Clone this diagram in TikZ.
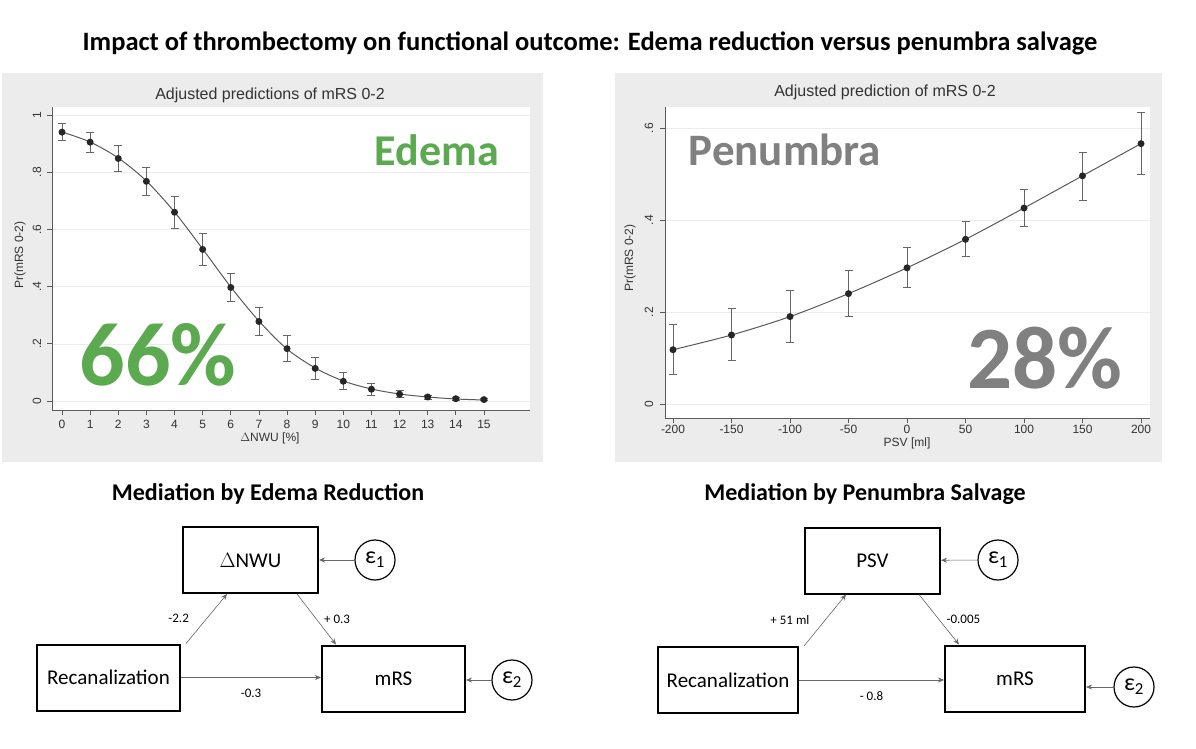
\documentclass[tikz,border=0pt]{standalone}
\usepackage{fontspec}
\setmainfont{Carlito}
\newfontfamily\plotfont{Liberation Sans}
\usetikzlibrary{arrows.meta}
\definecolor{panelgray}{RGB}{236,236,236}
\definecolor{edgreen}{RGB}{92,170,80}
\definecolor{pengray}{RGB}{128,128,128}
\definecolor{curvegray}{RGB}{90,90,90}
\tikzset{
  panel/.style={fill=panelgray,draw=none},
  plotarea/.style={fill=white,draw=none},
  axis/.style={draw=curvegray,line width=0.8pt},
  ptick/.style={font=\plotfont\fontsize{12}{13}\selectfont,text=black!80},
  pt/.style={circle,fill=black!85,inner sep=0pt,minimum size=7pt},
  errbar/.style={draw=black!60,line width=0.8pt},
  curve/.style={draw=curvegray,line width=1pt},
  grid/.style={draw=panelgray,line width=0.6pt},
  varbox/.style={draw,line width=2pt,minimum width=140pt,minimum height=66pt,font=\fontsize{21}{24}\selectfont},
  errc/.style={circle,draw,line width=1.2pt,minimum size=40pt,inner sep=0pt,font=\fontsize{24}{26}\selectfont},
  conn/.style={-{Stealth[length=6pt,width=5pt]},draw=black!60,line width=0.6pt},
  coef/.style={font=\fontsize{13}{14}\selectfont}
}
\begin{document}
\begin{tikzpicture}[x=1pt,y=-1pt]
\useasboundingbox (0,0) rectangle (1196,749);
\fill[white] (0,0) rectangle (1196,749);
\node[font=\bfseries\fontsize{26.5}{30}\selectfont] (title) at (590,43) {Impact of thrombectomy on functional outcome: Edema reduction versus penumbra salvage};
% ---------- left plot
\fill[panel] (2,73) rectangle (543,462);
\fill[plotarea] (52,107) rectangle (530,410);
\foreach \v in {0,0.2,0.4,0.6,0.8,1} \draw[grid] (52,{401-286*\v}) -- (530,{401-286*\v});
\draw[axis] (52,107) -- (52,410) -- (530,410);
\foreach \v/\l in {0/0,0.2/.2,0.4/.4,0.6/.6,0.8/.8,1/1}{
  \draw[axis] (47,{401-286*\v}) -- (52,{401-286*\v});
  \node[ptick,rotate=90] at (37,{401-286*\v}) {\l};}
\foreach \i in {0,...,15}{
  \draw[axis] ({62+28.13*\i},410) -- ({62+28.13*\i},415);
  \node[ptick] at ({62+28.13*\i},424) {\i};}
\node[ptick] (lxl) at (270,438) {$\Delta$NWU [\%]};
\node[ptick,rotate=90] (lyl) at (20,255) {Pr(mRS 0-2)};
\node[font=\plotfont\fontsize{16}{18}\selectfont,text=black!80] (ltitle) at (270,95) {Adjusted predictions of mRS 0-2};
\draw[curve] plot[smooth] coordinates {(62,132) (90.1,142) (118.3,158) (146.4,181) (174.5,212) (202.7,249) (230.8,287) (258.9,321) (287,349) (315.2,368) (343.3,381) (371.4,389) (399.6,394) (427.7,397) (455.8,399) (484,400)};
\foreach \i/\m/\h in {0/0.94/0.03,1/0.905/0.035,2/0.848/0.045,3/0.768/0.05,4/0.66/0.055,5/0.53/0.055,6/0.397/0.05,7/0.278/0.05,8/0.183/0.045,9/0.114/0.037,10/0.069/0.03,11/0.041/0.022,12/0.024/0.013,13/0.014/0.007,14/0.008/0.005,15/0.005/0.003}{
  \draw[errbar] ({62+28.13*\i},{401-286*(\m-\h)}) -- ({62+28.13*\i},{401-286*(\m+\h)});
  \draw[errbar] ({62+28.13*\i-4},{401-286*(\m-\h)}) -- ({62+28.13*\i+4},{401-286*(\m-\h)});
  \draw[errbar] ({62+28.13*\i-4},{401-286*(\m+\h)}) -- ({62+28.13*\i+4},{401-286*(\m+\h)});
  \node[pt] at ({62+28.13*\i},{401-286*\m}) {};}
\node[font=\bfseries\fontsize{44}{48}\selectfont,text=edgreen] (edema) at (437,150) {Edema};
\node[font=\bfseries\fontsize{90}{96}\selectfont,text=edgreen] (p66) at (158,355) {66\%};
% ---------- right plot
\fill[panel] (615,73) rectangle (1162,462);
\fill[plotarea] (665,107) rectangle (1150,418);
\foreach \v in {0,0.2,0.4,0.6} \draw[grid] (665,{404-460*\v}) -- (1150,{404-460*\v});
\draw[axis] (665,107) -- (665,418) -- (1150,418);
\foreach \v/\l in {0/0,0.2/.2,0.4/.4,0.6/.6}{
  \draw[axis] (660,{404-460*\v}) -- (665,{404-460*\v});
  \node[ptick,rotate=90] at (649,{404-460*\v}) {\l};}
\foreach \x in {-200,-150,...,200}{
  \draw[axis] ({673+1.17*(\x+200)},418) -- ({673+1.17*(\x+200)},423);
  \node[ptick] at ({673+1.17*(\x+200)},429) {\x};}
\node[ptick] (rxl) at (907,443) {PSV [ml]};
\node[ptick,rotate=90] (ryl) at (630,258) {Pr(mRS 0-2)};
\node[font=\plotfont\fontsize{16}{18}\selectfont,text=black!80] (rtitle) at (885,92) {Adjusted prediction of mRS 0-2};
\draw[curve] plot[smooth] coordinates {(673,349.7) (731.5,335) (790,316.6) (848.5,293.6) (907,267.8) (965.5,239.3) (1024,208) (1082.5,175.8) (1141,143.6)};
\foreach \x/\m/\lo/\hi in {-200/0.118/0.065/0.173,-150/0.15/0.095/0.208,-100/0.19/0.135/0.247,-50/0.24/0.19/0.29,0/0.296/0.253/0.34,50/0.358/0.32/0.398,100/0.426/0.386/0.466,150/0.496/0.443/0.548,200/0.566/0.5/0.635}{
  \draw[errbar] ({673+1.17*(\x+200)},{404-460*\lo}) -- ({673+1.17*(\x+200)},{404-460*\hi});
  \draw[errbar] ({673+1.17*(\x+200)-4},{404-460*\lo}) -- ({673+1.17*(\x+200)+4},{404-460*\lo});
  \draw[errbar] ({673+1.17*(\x+200)-4},{404-460*\hi}) -- ({673+1.17*(\x+200)+4},{404-460*\hi});
  \node[pt] at ({673+1.17*(\x+200)},{404-460*\m}) {};}
\node[font=\bfseries\fontsize{45}{50}\selectfont,text=pengray] (penum) at (785,150) {Penumbra};
\node[font=\bfseries\fontsize{89}{95}\selectfont,text=pengray] (p28) at (1045,358) {28\%};
% ---------- left mediation
\node[font=\bfseries\fontsize{24}{28}\selectfont] (lmt) at (268,494) {Mediation by Edema Reduction};
\node[varbox,minimum width=135pt] (nwu) at (250.5,560) {$\Delta$NWU};
\node[errc] (e1l) at (375,560) {ε\textsubscript{1}};
\node[varbox,minimum width=143pt] (recl) at (108.5,677.5) {Recanalization};
\node[varbox,minimum width=143pt] (mrsl) at (393.5,678.5) {mRS};
\node[errc] (e2l) at (512,680) {ε\textsubscript{2}};
\draw[conn] ([xshift=5pt]recl.north east) -- ([xshift=45pt]nwu.south west) node[pos=0.5,left=14pt,coef] {-2.2};
\draw[conn] ([xshift=-22pt]nwu.south east) -- ([xshift=15pt]mrsl.north west) node[pos=0.5,right=4pt,coef] {+ 0.3};
\draw[conn] (recl.east) -- (mrsl.west |- recl.east) node[pos=0.5,below=8pt,coef] {-0.3};
\draw[conn] (e1l) -- (nwu);
\draw[conn] (e2l) -- (e2l -| mrsl.east);
% ---------- right mediation
\node[font=\bfseries\fontsize{24}{28}\selectfont] (rmt) at (865,494) {Mediation by Penumbra Salvage};
\node[varbox,minimum width=135pt] (psv) at (872.5,560.5) {PSV};
\node[errc] (e1r) at (998,560) {ε\textsubscript{1}};
\node[varbox,minimum width=140pt] (recr) at (728,680) {Recanalization};
\node[varbox,minimum width=140pt] (mrsr) at (1015,678.5) {mRS};
\node[errc] (e2r) at (1134,687) {ε\textsubscript{2}};
\draw[conn] ([xshift=5pt]recr.north east) -- ([xshift=42pt]psv.south west) node[pos=0.5,left=12pt,coef] {+ 51 ml};
\draw[conn] ([xshift=-22pt]psv.south east) -- ([xshift=15pt]mrsr.north west) node[pos=0.5,right=4pt,coef] {-0.005};
\draw[conn] (recr.east) -- (mrsr.west |- recr.east) node[pos=0.5,below=8pt,coef] {- 0.8};
\draw[conn] (e1r) -- (psv);
\draw[conn] (e2r) -- (e2r -| mrsr.east);
\end{tikzpicture}
\end{document}
